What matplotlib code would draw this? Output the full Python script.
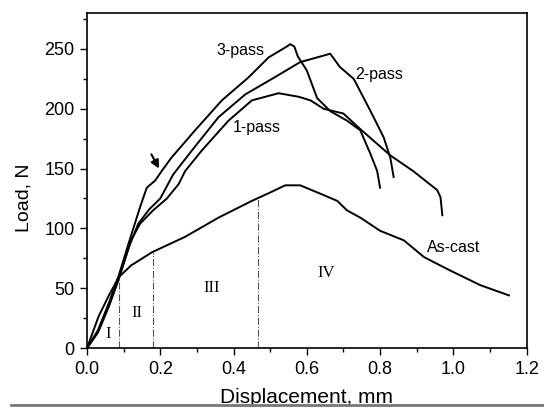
import numpy as np
import matplotlib
matplotlib.use('Agg')
import matplotlib.pyplot as plt
from matplotlib.ticker import MultipleLocator
from matplotlib.lines import Line2D

plt.rcParams['font.family'] = ['Liberation Sans', 'DejaVu Sans']

# Load-displacement curves
x_3pass = [0, 0.03, 0.06, 0.086, 0.113, 0.145, 0.163, 0.186, 0.204, 0.23, 0.295, 0.368,
           0.44, 0.496, 0.54, 0.555, 0.566, 0.575, 0.60, 0.628, 0.664, 0.71, 0.746, 0.774, 0.792, 0.80]
y_3pass = [0, 15, 38, 60, 87, 118, 134, 140, 148, 159, 182, 207,
           226, 243, 251, 254, 252, 244, 232, 209, 198, 190, 182, 162, 148, 134]

x_2pass = [0, 0.03, 0.06, 0.086, 0.115, 0.14, 0.17, 0.2, 0.235, 0.286, 0.359, 0.432,
           0.505, 0.582, 0.664, 0.69, 0.728, 0.774, 0.81, 0.828, 0.837]
y_2pass = [0, 14, 36, 58, 85, 104, 116, 125, 145, 165, 193, 212,
           225, 239, 246, 235, 225, 198, 176, 159, 143]

x_1pass = [0, 0.03, 0.06, 0.086, 0.12, 0.145, 0.18, 0.218, 0.25, 0.268, 0.313, 0.386,
           0.45, 0.523, 0.578, 0.61, 0.646, 0.70, 0.746, 0.828, 0.89, 0.956, 0.965, 0.97]
y_1pass = [0, 13, 35, 57, 90, 104, 115, 125, 137, 148, 165, 190,
           207, 213, 210, 207, 200, 196, 183, 161, 148, 132, 126, 111]

x_cast = [0, 0.031, 0.058, 0.086, 0.12, 0.177, 0.268, 0.359, 0.45, 0.5, 0.541, 0.582,
          0.637, 0.683, 0.71, 0.746, 0.80, 0.865, 0.92, 0.99, 1.074, 1.152]
y_cast = [0, 26, 43, 59, 69, 80, 93, 109, 123, 130, 136, 136,
          129, 123, 115, 109, 98, 90, 76, 65, 52.5, 44]

# stage boundaries and labels
stage_x = [0.086, 0.181, 0.466]
stage_labels = ['I', 'II', 'III', 'IV']
stage_lx = [0.057, 0.136, 0.339, 0.653]
stage_ly = [12, 29, 50, 63]

fig = plt.figure(figsize=(5.44, 4.08), dpi=100)
ax = fig.add_axes([0.16, 0.147, 0.808, 0.821])

for xs, ys in [(x_3pass, y_3pass), (x_2pass, y_2pass), (x_1pass, y_1pass), (x_cast, y_cast)]:
    ax.plot(xs, ys, color='black', lw=1.4)

# dash-dot stage lines up to the as-cast curve
for sx in stage_x:
    top = np.interp(sx, x_cast, y_cast)
    ax.plot([sx, sx], [0, top], color='#555555', lw=0.8, linestyle='-.')

for lab, lx, ly in zip(stage_labels, stage_lx, stage_ly):
    ax.text(lx, ly, lab, family='Liberation Serif', fontsize=12, ha='center', va='center')

ax.text(0.42, 249, '3-pass', fontsize=11.5, ha='center', va='center')
ax.text(0.797, 229, '2-pass', fontsize=11.5, ha='center', va='center')
ax.text(0.464, 184, '1-pass', fontsize=11.5, ha='center', va='center')
ax.text(1.0, 84, 'As-cast', fontsize=11.5, ha='center', va='center')

ax.annotate('', xy=(0.20, 148), xytext=(0.172, 164),
            arrowprops=dict(arrowstyle='-|>', color='black', lw=1.5, mutation_scale=12))

ax.set_xlim(0, 1.2)
ax.set_ylim(0, 280)
ax.xaxis.set_minor_locator(MultipleLocator(0.1))
ax.yaxis.set_major_locator(MultipleLocator(50))
ax.yaxis.set_minor_locator(MultipleLocator(25))
ax.set_xticks(np.arange(0, 1.21, 0.2))
ax.set_xticklabels(['0.0', '0.2', '0.4', '0.6', '0.8', '1.0', '1.2'])
ax.tick_params(which='major', direction='out', length=5, width=1, labelsize=13, pad=4)
ax.tick_params(which='minor', direction='out', length=3, width=1)
for sp in ax.spines.values():
    sp.set_linewidth(1.2)

ax.set_xlabel('Displacement, mm', fontsize=15)
ax.set_ylabel('Load, N', fontsize=14)
ax.xaxis.set_label_coords(0.5, -0.119)
ax.yaxis.set_label_coords(-0.125, 0.45)

# scan border line at the bottom
fig.add_artist(Line2D([0.02, 1.0], [0.008, 0.008], color='#777777', lw=2))

fig.savefig('out.png', dpi=100)
